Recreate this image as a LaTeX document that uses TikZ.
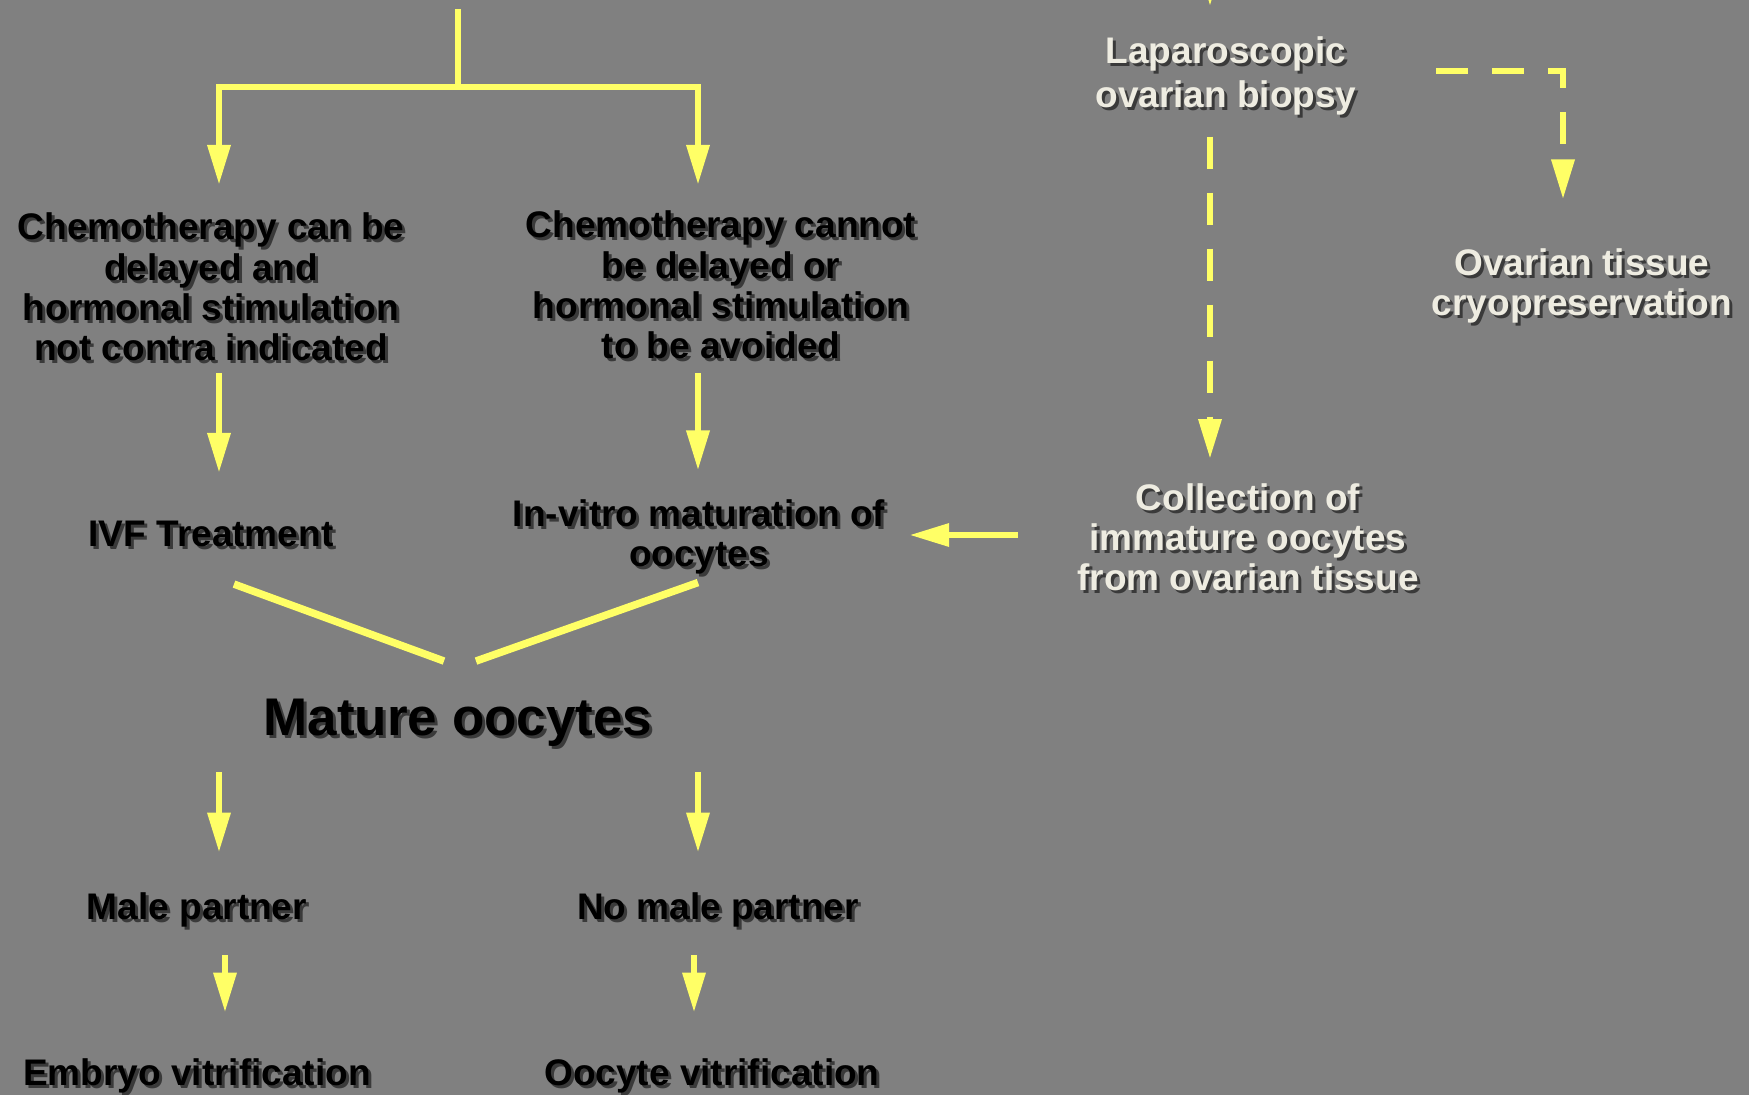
\documentclass[tikz,border=0pt]{standalone}
\usepackage{fontspec}
\setmainfont{Liberation Sans}
\usetikzlibrary{arrows.meta,calc}
\definecolor{bg}{HTML}{808080}
\definecolor{ylw}{HTML}{FFFF66}
\definecolor{cream}{HTML}{EEECE1}
\definecolor{shd}{HTML}{3A3A3A}
\newcommand\shnode[4]{%
  \node[#3,text=shd] (#1-sh) at ([shift={(3,3)}]#2) {#4};
  \node[#3] (#1) at (#2) {#4};}
\begin{document}
\begin{tikzpicture}[x=1pt,y=-1pt,line join=miter,
  txt/.style={inner sep=0pt,align=center,font=\fontsize{37}{40.2}\selectfont\bfseries},
  dark/.style={txt,text=black},
  light/.style={txt,text=cream},
  ln/.style={draw=ylw,line width=6.5pt},
  arr/.style={ln,-{Triangle[length=40pt,width=22pt]}},
  dsh/.style={dash pattern=on 32pt off 24pt}]
\fill[bg] (0,0) rectangle (1749,1095);
\useasboundingbox (0,0) rectangle (1749,1095);
\clip (0,0) rectangle (1749,1095);

% nodes
\shnode{c1}{211,287}{dark}{Chemotherapy can be\\delayed and\\hormonal stimulation\\not contra indicated}
\shnode{c2}{721,285}{dark}{Chemotherapy cannot\\be delayed or\\hormonal stimulation\\to be avoided}
\shnode{ivf}{211,534}{dark}{IVF Treatment}
\shnode{ivm}{699,537}{dark}{In-vitro maturation of\\oocytes}
\shnode{mat}{458,723}{dark,font=\fontsize{53}{60}\selectfont\bfseries}{Mature oocytes}
\shnode{male}{197,910}{dark}{Male partner}
\shnode{nomale}{718,910}{dark}{No male partner}
\shnode{emb}{197,1076}{dark}{Embryo vitrification}
\shnode{ooc}{712,1076}{dark}{Oocyte vitrification}
\shnode{lap}{1226,76}{light,font=\fontsize{37}{44.6}\selectfont\bfseries}{Laparoscopic\\ovarian biopsy}
\shnode{ovt}{1582,286}{light}{Ovarian tissue\\cryopreservation}
\shnode{coll}{1248,537}{light}{Collection of\\immature oocytes\\from ovarian tissue}

% columns and free ends
\coordinate (cL) at (219,0);
\coordinate (cR) at (698,0);
\coordinate (cLL) at (225,0);
\coordinate (cRR) at (694,0);
\coordinate (cX) at (1210,0);
\coordinate (cY) at (1563,0);
\coordinate (top) at (458,9);
\coordinate (jn) at (458,87);
\coordinate (lapin) at (1210,-60);
\coordinate (collin) at ([yshift=2pt]coll.west);
\coordinate (lapout) at ([yshift=5pt]lap.east);

% connectors
\draw[ln] (top) -- (jn);
\draw[arr,shorten >=28pt] (jn) -| (cL |- c1.north);
\draw[arr,shorten >=26pt] (jn) -| (cR |- c2.north);
\draw[arr,shorten <=12pt,shorten >=48pt] (cL |- c1.south) -- (cL |- ivf.north);
\draw[arr,shorten <=14pt,shorten >=29pt] (cR |- c2.south) -- (cR |- ivm.north);
\draw[arr,shorten <=59pt,shorten >=24pt] (collin) -- (ivm.east |- collin);
\draw[ln,line width=7.5pt] ($(ivf.south)+(23,37)$) -- ($(mat.north)+(-14,-38)$);
\draw[ln,line width=7.5pt] ($(ivm.south)+(-1,8)$) -- ($(mat.north)+(18,-38)$);
\draw[arr,shorten <=25pt,shorten >=40pt] (cL |- mat.south) -- (cL |- male.north);
\draw[arr,shorten <=25pt,shorten >=40pt] (cR |- mat.south) -- (cR |- nomale.north);
\draw[arr,shorten <=28pt,shorten >=46pt] (cLL |- male.south) -- (cLL |- emb.north);
\draw[arr,shorten <=28pt,shorten >=46pt] (cRR |- nomale.south) -- (cRR |- ooc.north);
\draw[arr,shorten >=30pt] (lapin) -- (cX |- lap.north);
\draw[arr,dsh,shorten <=21pt,shorten >=24pt] (cX |- lap.south) -- (cX |- coll.north);
\draw[arr,dsh,shorten <=79pt,shorten >=49pt] (lapout) -| (cY |- ovt.north);
\end{tikzpicture}
\end{document}
